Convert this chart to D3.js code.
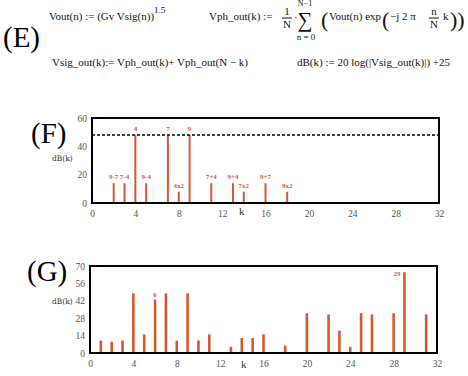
<!DOCTYPE html>
<html>
<head>
<meta charset="utf-8">
<script src="https://cdn.jsdelivr.net/npm/d3@7"></script>
<style>
  body { margin: 0; background: #fff; }
  text { font-family: "Liberation Serif", "Times New Roman", serif; }
</style>
</head>
<body>
<svg id="chart" width="468" height="376"></svg>
<script>
// panel F: ideal spectrum components
const fK = [2, 3, 4, 5, 7, 8, 9, 11, 13, 14, 16, 18];
const fDb = [14, 14, 48, 14, 48, 8, 48, 14, 14, 8, 14, 8];
const fLabels = ["9-7", "7-4", "4", "9-4", "7", "4x2", "9", "7+4", "9+4", "7x2", "9+7", "9x2"];
const fThreshold = 48;
const fYTicks = [0, 20, 40, 60];

// panel G: computed spectrum
const gK = [1, 2, 3, 4, 5, 6, 7, 8, 9, 10, 11, 13, 14, 15, 16, 18, 20, 22, 23, 24, 25, 26, 28, 29, 31];
const gDb = [10, 9, 10, 48, 15, 43, 48, 10, 48, 10, 15, 5, 12, 12, 15, 6, 32, 31, 18, 5, 32, 31, 32, 65, 31];
const gLabels = {6: "6", 29: "29"};
const gYTicks = [0, 14, 28, 42, 56, 70];

const xTicks = [0, 4, 8, 12, 16, 20, 24, 28, 32];

const svg = d3.select('#chart');
const barColor = '#d5592f';

// ---- equations (E)
const eq = svg.append('g').style('font-size', '11px').attr('fill', '#111');
svg.append('text').attr('x', 3).attr('y', 47).style('font-size', '29px').text('(E)');

const t1 = eq.append('text').attr('x', 49).attr('y', 20);
t1.append('tspan').text('Vout(n) := (Gv Vsig(n))');
t1.append('tspan').attr('dy', -7).style('font-size', '9px').text('1.5');

eq.append('text').attr('x', 209).attr('y', 20).text('Vph_out(k) :=');
eq.append('text').attr('x', 287).attr('y', 15).attr('text-anchor', 'middle').text('1');
eq.append('line').attr('x1', 282).attr('x2', 292).attr('y1', 18).attr('y2', 18).attr('stroke', '#111');
eq.append('text').attr('x', 287).attr('y', 28).attr('text-anchor', 'middle').text('N');
eq.append('text').attr('x', 294).attr('y', 21).text('·');
eq.append('text').attr('x', 305).attr('y', 27).attr('text-anchor', 'middle').style('font-size', '21px').text('∑');
eq.append('text').attr('x', 305).attr('y', 6).attr('text-anchor', 'middle').style('font-size', '8px').text('N−1');
eq.append('text').attr('x', 306).attr('y', 40).attr('text-anchor', 'middle').style('font-size', '9px').text('n = 0');
eq.append('text').attr('x', 321).attr('y', 27).style('font-size', '22px').text('(');
eq.append('text').attr('x', 329).attr('y', 20).text('Vout(n) exp');
eq.append('text').attr('x', 382).attr('y', 27).style('font-size', '22px').text('(');
eq.append('text').attr('x', 390).attr('y', 20).text('−j  2 π');
eq.append('text').attr('x', 434).attr('y', 15).attr('text-anchor', 'middle').text('n');
eq.append('line').attr('x1', 429).attr('x2', 439).attr('y1', 18).attr('y2', 18).attr('stroke', '#111');
eq.append('text').attr('x', 434).attr('y', 28).attr('text-anchor', 'middle').text('N');
eq.append('text').attr('x', 443).attr('y', 20).text('k');
eq.append('text').attr('x', 450).attr('y', 27).style('font-size', '22px').text('))');

eq.append('text').attr('x', 52).attr('y', 66).text('Vsig_out(k):= Vph_out(k)+ Vph_out(N − k)');
eq.append('text').attr('x', 297).attr('y', 66).text('dB(k) := 20 log(|Vsig_out(k)|) +25');

// ---- stem chart panel
function panel(cfg) {
    const x = d3.scaleLinear().domain([0, 32]).range([cfg.left, cfg.right]);
    const y = d3.scaleLinear().domain([0, cfg.ymax]).range([cfg.bottom, cfg.top]);

    svg.append('text').attr('x', cfg.titleX).attr('y', cfg.titleY)
        .style('font-size', '29px').text(cfg.title);

    const xaxis = d3.axisBottom(x).tickValues(xTicks).tickSize(0).tickPadding(7);
    const yaxis = d3.axisLeft(y).tickValues(cfg.yticks).tickSize(0).tickPadding(5);

    const xg = svg.append('g').attr('transform', `translate(0, ${cfg.bottom})`).call(xaxis);
    const yg = svg.append('g').attr('transform', `translate(${cfg.left}, 0)`).call(yaxis);
    [xg, yg].forEach(g => {
        g.attr('font-family', null).attr('font-size', null);
        g.select('.domain').remove();
        g.selectAll('text')
            .style('font-family', '"Liberation Serif", serif')
            .style('font-size', '9.5px')
            .attr('fill', '#555');
    });

    svg.append('text').attr('x', cfg.kX).attr('y', cfg.kY)
        .style('font-size', '11px').attr('fill', '#333').text('k');
    svg.append('text').attr('x', 52).attr('y', cfg.ylabelY)
        .style('font-family', '"DejaVu Serif", serif')
        .style('font-size', '7.5px').attr('fill', '#333').text('dB(k)');

    const data = cfg.k.map((k, i) => ({k: k, v: cfg.v[i]}));

    svg.append('g').selectAll('line')
        .data(data)
        .join('line')
        .attr('x1', d => x(d.k))
        .attr('x2', d => x(d.k))
        .attr('y1', y(0))
        .attr('y2', d => y(d.v))
        .attr('stroke', barColor)
        .attr('stroke-width', cfg.barWidth);

    if (cfg.threshold !== undefined) {
        svg.append('line')
            .attr('x1', x(0)).attr('x2', x(32))
            .attr('y1', y(cfg.threshold)).attr('y2', y(cfg.threshold))
            .attr('stroke', '#000').attr('stroke-width', 1.5)
            .attr('stroke-dasharray', '3,2');
    }

    svg.append('rect')
        .attr('x', cfg.left).attr('y', cfg.top)
        .attr('width', cfg.right - cfg.left).attr('height', cfg.bottom - cfg.top)
        .attr('fill', 'none').attr('stroke', '#000').attr('stroke-width', 2);

    return {x: x, y: y, data: data};
}

const pf = panel({
    title: '(F)', titleX: 31, titleY: 143,
    left: 92, right: 439, top: 118, bottom: 203, ymax: 60,
    yticks: fYTicks, k: fK, v: fDb, threshold: fThreshold, barWidth: 2,
    kX: 239, kY: 215, ylabelY: 161
});
svg.append('g').selectAll('text')
    .data(pf.data)
    .join('text')
    .attr('x', d => pf.x(d.k))
    .attr('y', d => pf.y(d.v) - 4)
    .attr('text-anchor', 'middle')
    .style('font-size', '7px').style('font-weight', 'bold')
    .attr('fill', barColor)
    .text((d, i) => fLabels[i]);

const pg = panel({
    title: '(G)', titleX: 27, titleY: 281,
    left: 90, right: 437, top: 266, bottom: 353, ymax: 70,
    yticks: gYTicks, k: gK, v: gDb, barWidth: 2.6,
    kX: 241, kY: 368, ylabelY: 304
});
svg.append('g').selectAll('text')
    .data(pg.data.filter(d => gLabels[d.k]))
    .join('text')
    .attr('x', d => d.k === 29 ? pg.x(d.k) - 4 : pg.x(d.k))
    .attr('y', d => d.k === 29 ? pg.y(d.v) + 4 : pg.y(d.v) - 3)
    .attr('text-anchor', d => d.k === 29 ? 'end' : 'middle')
    .style('font-size', '7px').style('font-weight', 'bold')
    .attr('fill', barColor)
    .text(d => gLabels[d.k]);
</script>
</body>
</html>
